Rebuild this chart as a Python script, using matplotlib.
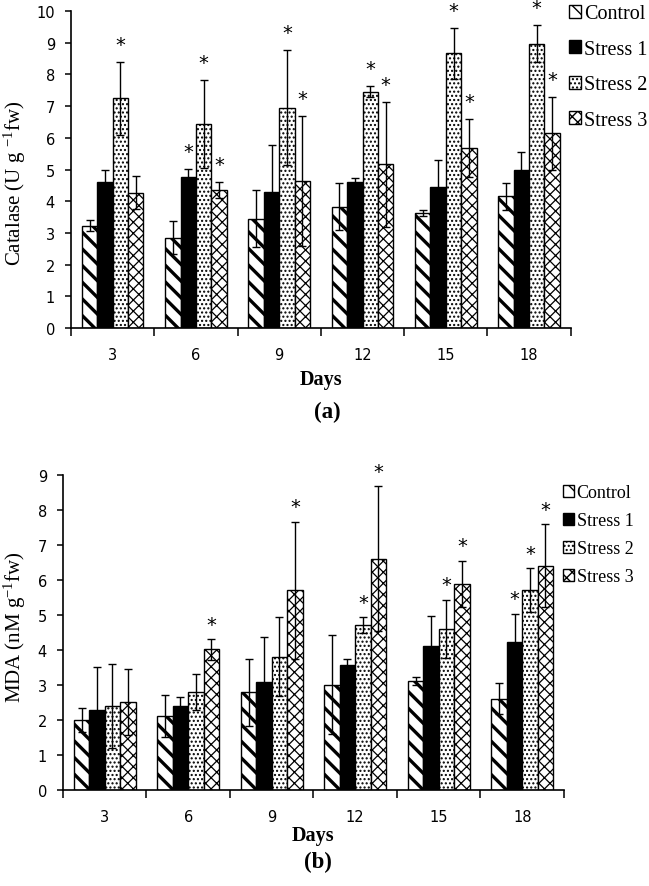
import matplotlib.pyplot as plt
import numpy as np
from matplotlib.patches import Patch
from matplotlib.ticker import FixedLocator, NullFormatter

days = ["3", "6", "9", "12", "15", "18"]
groups = ["Control", "Stress 1", "Stress 2", "Stress 3"]

# catalase (U g-1 fw): means and SD
cat_control = [3.23, 2.85, 3.45, 3.83, 3.62, 4.15]
cat_stress1 = [4.60, 4.78, 4.30, 4.60, 4.44, 5.00]
cat_stress2 = [7.24, 6.43, 6.95, 7.46, 8.66, 8.97]
cat_stress3 = [4.27, 4.35, 4.64, 5.16, 5.67, 6.15]
cat_control_sd = [0.17, 0.52, 0.90, 0.74, 0.10, 0.42]
cat_stress1_sd = [0.40, 0.25, 1.47, 0.14, 0.85, 0.54]
cat_stress2_sd = [1.16, 1.38, 1.81, 0.17, 0.80, 0.59]
cat_stress3_sd = [0.52, 0.25, 2.05, 1.96, 0.91, 1.15]
cat_stars = [
    [0, 0, 1, 0],
    [0, 1, 1, 1],
    [0, 0, 1, 1],
    [0, 0, 1, 1],
    [0, 0, 1, 1],
    [0, 0, 1, 1],
]

# MDA (nM g-1 fw): means and SD
mda_control = [2.00, 2.12, 2.80, 3.02, 3.13, 2.62]
mda_stress1 = [2.30, 2.42, 3.10, 3.57, 4.12, 4.23]
mda_stress2 = [2.40, 2.80, 3.82, 4.72, 4.62, 5.72]
mda_stress3 = [2.52, 4.03, 5.72, 6.62, 5.90, 6.42]
mda_control_sd = [0.35, 0.61, 0.96, 1.41, 0.11, 0.44]
mda_stress1_sd = [1.23, 0.25, 1.27, 0.19, 0.86, 0.82]
mda_stress2_sd = [1.20, 0.52, 1.12, 0.22, 0.83, 0.62]
mda_stress3_sd = [0.95, 0.30, 1.96, 2.08, 0.66, 1.18]
mda_stars = [
    [0, 0, 0, 0],
    [0, 0, 0, 1],
    [0, 0, 0, 1],
    [0, 0, 1, 1],
    [0, 0, 1, 1],
    [0, 1, 1, 1],
]

SERIF = ["Liberation Serif", "DejaVu Serif"]
SANS = ["DejaVu Sans"]

plt.rcParams.update(
    {
        "font.family": SANS,
        "hatch.linewidth": 1.0,
        "hatch.color": "black",
        "mathtext.fontset": "custom",
        "mathtext.rm": "Liberation Serif",
        "mathtext.it": "Liberation Serif:italic",
        "mathtext.bf": "Liberation Serif:bold",
    }
)

styles = [
    {"facecolor": "white", "hatch": "\\\\", "hlw": 2.4},
    {"facecolor": "black", "hatch": None, "hlw": 1.0},
    {"facecolor": "white", "hatch": "....", "hlw": 1.0},
    {"facecolor": "white", "hatch": "xxx", "hlw": 0.9},
]


def draw_panel(ax, means, sds, stars, ymax, star_off):
    n = len(days)
    x = np.arange(n)
    width = 0.185
    for i, (m, s) in enumerate(zip(means, sds)):
        st = styles[i]
        pos = x + (i - 1.5) * width
        bars = ax.bar(
            pos,
            m,
            width,
            facecolor=st["facecolor"],
            edgecolor="black",
            linewidth=1.0,
            hatch=st["hatch"],
            zorder=2,
        )
        for b in bars:
            if hasattr(b, "set_hatch_linewidth"):
                b.set_hatch_linewidth(st["hlw"])
        ax.errorbar(
            pos, m, yerr=s, fmt="none", ecolor="black",
            elinewidth=1.0, capsize=3, capthick=1.0, zorder=3,
        )
        for j in range(n):
            if stars[j][i]:
                ax.text(
                    pos[j], m[j] + s[j] + star_off, "*",
                    ha="center", va="center", fontsize=14,
                    family=SANS, zorder=4,
                )
    ax.set_xlim(-0.5, n - 0.5)
    ax.set_ylim(0, ymax)
    ax.set_xticks(x)
    ax.set_xticklabels(days)
    ax.xaxis.set_minor_locator(FixedLocator(np.arange(n + 1) - 0.5))
    ax.xaxis.set_minor_formatter(NullFormatter())
    ax.tick_params(axis="x", which="major", length=0, pad=13.5, labelsize=10.5)
    ax.tick_params(axis="x", which="minor", length=5.5, width=1.1, direction="out")
    ax.tick_params(axis="y", length=4.5, width=1.1, labelsize=10.5, pad=7)
    ax.set_yticks(np.arange(0, ymax + 1, 1))
    for side in ["top", "right"]:
        ax.spines[side].set_visible(False)
    for side in ["left", "bottom"]:
        ax.spines[side].set_linewidth(1.2)


def legend_handles():
    hs = []
    for st in styles:
        hs.append(
            Patch(facecolor=st["facecolor"], edgecolor="black",
                  hatch=st["hatch"], linewidth=1.0)
        )
    return hs


fig = plt.figure(figsize=(6.49, 8.87), dpi=100)

# panel (a)
ax1 = fig.add_axes([0.1094, 0.629, 0.770, 0.3575])
draw_panel(
    ax1,
    [cat_control, cat_stress1, cat_stress2, cat_stress3],
    [cat_control_sd, cat_stress1_sd, cat_stress2_sd, cat_stress3_sd],
    cat_stars, 10, 0.55,
)
ax1.set_ylabel("Catalase (U g $^{-1}$fw)", family=SERIF, fontsize=15)
ax1.yaxis.set_label_coords(-0.086, 0.46)
fig.text(0.4946, 0.566, "Days", family=SERIF, fontweight="bold",
         fontsize=14.5, ha="center", va="baseline")
fig.text(0.504, 0.535, "(a)", family=SERIF, fontweight="bold",
         fontsize=16.5, ha="center", va="center")
fig.legend(
    legend_handles(), groups, loc="upper left",
    bbox_to_anchor=(0.877, 0.994), frameon=False, borderaxespad=0,
    prop={"family": SERIF, "size": 14.5}, handlelength=0.6,
    handleheight=0.6, handletextpad=0.15, labelspacing=0.82, borderpad=0,
)

# panel (b)
ax2 = fig.add_axes([0.097, 0.108, 0.772, 0.355])
draw_panel(
    ax2,
    [mda_control, mda_stress1, mda_stress2, mda_stress3],
    [mda_control_sd, mda_stress1_sd, mda_stress2_sd, mda_stress3_sd],
    mda_stars, 9, 0.42,
)
ax2.set_ylabel("MDA (nM g$^{-1}$fw)", family=SERIF, fontsize=15)
ax2.yaxis.set_label_coords(-0.07, 0.52)
fig.text(0.483, 0.052, "Days", family=SERIF, fontweight="bold",
         fontsize=14.5, ha="center", va="baseline")
fig.text(0.49, 0.028, "(b)", family=SERIF, fontweight="bold",
         fontsize=16.5, ha="center", va="center")
fig.legend(
    legend_handles(), groups, loc="upper left",
    bbox_to_anchor=(0.8675, 0.453), frameon=False, borderaxespad=0,
    prop={"family": SERIF, "size": 13}, handlelength=0.6,
    handleheight=0.6, handletextpad=0.15, labelspacing=0.61, borderpad=0,
)

fig.savefig("out.png", dpi=100)
